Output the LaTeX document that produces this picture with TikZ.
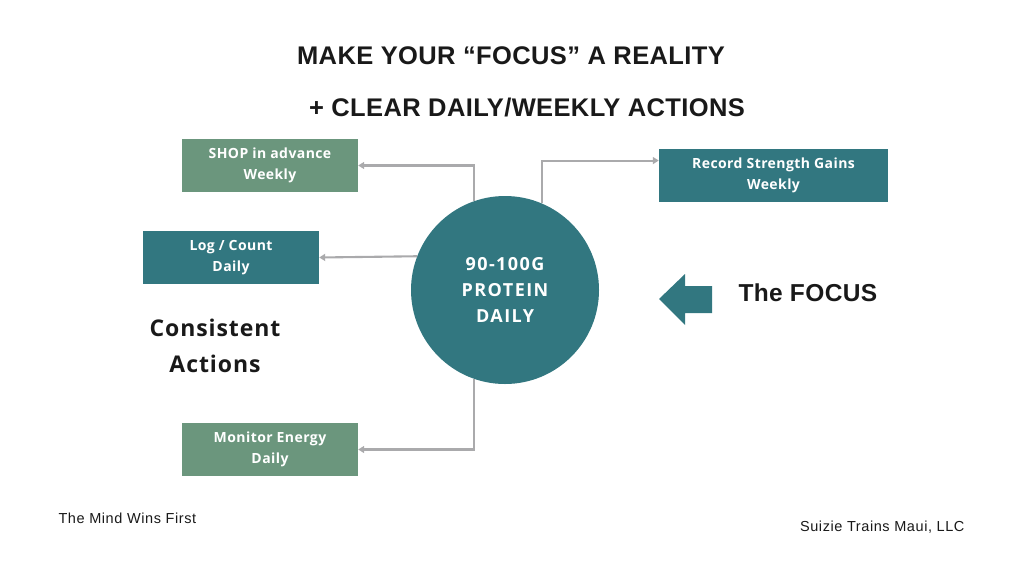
\documentclass[tikz,border=0pt]{standalone}
\usepackage{fontspec}
\setmainfont{Open Sans}
\newfontfamily\titlefont[LetterSpace=1.5]{Liberation Sans}
\newfontfamily\boxfont[LetterSpace=3]{Open Sans}
\newfontfamily\hubfont[LetterSpace=8]{Open Sans}
\newfontfamily\sidefont[LetterSpace=4]{Open Sans}
\newfontfamily\plainfont[LetterSpace=4]{Liberation Sans}
\usepackage{xcolor}
\usetikzlibrary{arrows.meta,positioning,calc}

\definecolor{tealbox}{RGB}{50,119,128}
\definecolor{sagebox}{RGB}{107,150,125}
\definecolor{lineGray}{RGB}{170,170,172}
\definecolor{inkBlack}{RGB}{25,25,25}

\begin{document}
\begin{tikzpicture}[
    x=1pt, y=-1pt,
    box/.style={rectangle, minimum width=176pt, minimum height=53pt, inner sep=0pt, align=center, text=white, font=\boxfont\fontsize{14}{21}\selectfont\bfseries},
    sage/.style={box, fill=sagebox},
    tealb/.style={box, fill=tealbox},
    arr/.style={-{Triangle[length=6pt,width=7pt]}, line width=2.1pt, lineGray},
    heading/.style={font=\titlefont\fontsize{25.5}{30}\selectfont\bfseries, text=inkBlack},
    footer/.style={font=\plainfont\fontsize{14.5}{15}\selectfont, text=inkBlack}
]
\useasboundingbox (0,0) rectangle (1024,576);

% titles
\node[heading] (titleA) at (511,56) {MAKE YOUR “FOCUS” A REALITY};
\node[heading] (titleB) at (527,108) {+ CLEAR DAILY/WEEKLY ACTIONS};

% the focus
\node[circle, fill=tealbox, minimum size=188pt, inner sep=0pt, align=center, text=white,
      font=\hubfont\fontsize{18}{26}\selectfont\bfseries] (focus) at (505,290) {90-100G\\PROTEIN\\DAILY};

% action boxes
\node[sage] (shop) at (270,165.5) {SHOP in advance\\Weekly};
\node[tealb] (logCount) at (231,257.5) {Log / Count\\Daily};
\node[tealb, minimum width=229pt] (record) at (773.5,175.5) {Record Strength Gains\\Weekly};
\node[sage] (monitor) at (270,449.5) {Monitor Energy\\Daily};
\coordinate (recordIn) at ($(record.north west)!0.22!(record.south west)$);

\node[align=center, font=\sidefont\fontsize{23}{36}\selectfont\bfseries, text=inkBlack] (consistent) at (215,346) {Consistent\\Actions};
\node[anchor=west, font=\titlefont\fontsize{24.5}{26}\selectfont\bfseries, text=inkBlack] (theFocus) at (735,293) {The FOCUS};

% big arrow
\fill[tealbox] (659,299) -- (685,274) -- (685,286) -- (712,286) -- (712,313) -- (685,313) -- (685,325) -- cycle;

% footers
\node[footer, anchor=west] (mind) at (55,518) {The Mind Wins First};
\node[footer, anchor=east] (suizie) at (968,527) {Suizie Trains Maui, LLC};

\draw[arr] (focus.109) |- (shop.east);
\draw[arr] (focus.159) -- (logCount.east);
\draw[arr] (focus.67) |- (recordIn);
\draw[arr] (focus.-109) |- (monitor.east);
\end{tikzpicture}
\end{document}
